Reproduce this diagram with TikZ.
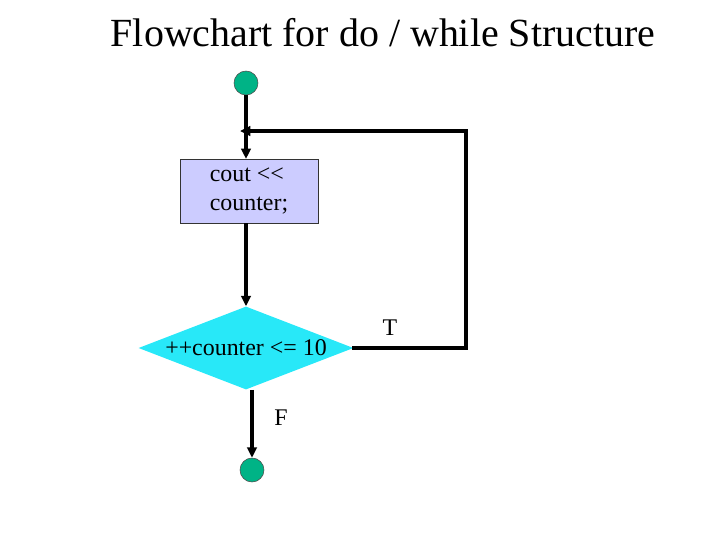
\documentclass[tikz,border=0pt]{standalone}
\usepackage{fontspec}
\setmainfont{Liberation Serif}
\usetikzlibrary{arrows.meta,positioning,shapes.geometric}
\definecolor{flowterm}{RGB}{0,179,134}
\definecolor{flowproc}{RGB}{204,204,255}
\definecolor{flowdec}{RGB}{40,232,248}
\tikzset{
  term/.style={circle,draw=black!70,thin,fill=flowterm,minimum size=0.6cm,inner sep=0pt},
  proc/.style={draw=black!80,thin,fill=flowproc,align=left,font=\fontsize{17}{20.5}\selectfont,
               minimum width=3.45cm,minimum height=1.6cm,inner sep=2pt},
  dec/.style={diamond,draw=none,fill=flowdec,aspect=2.6,inner sep=0pt,
              minimum width=5.375cm,minimum height=2.075cm,font=\fontsize{17}{20}\selectfont},
  flabel/.style={font=\fontsize{17}{20}\selectfont},
  wire/.style={line width=2.6pt,draw=black},
  flow/.style={wire,-{Triangle[length=2.6mm,width=2.4mm]}},
}
\begin{document}
\begin{tikzpicture}
\useasboundingbox (0,0) rectangle (18,-13.5);
% title
\node[font=\fontsize{28.4}{32}\selectfont] (title) at (9.575,-0.825) {Flowchart for do / while Structure};
% nodes
\node[term] (start) at (6.15,-2.075) {};
\node[proc] (body) at (6.225,-4.78) {cout <{}<\\counter;};
\node[dec] (test) at (6.15,-8.7) {++counter <{}= 10};
\node[term] (stop) at (6.3,-11.75) {};
\coordinate (join) at (6.0,-3.275);
\coordinate (loop) at (11.65,-3.275);
% connectors
\draw[flow] (start.south) -- (start.south|-body.north);
\draw[flow] (test.north|-body.south) -- (test.north);
\draw[wire,line cap=rect] (test.east) -| (loop);
\draw[flow] (loop) -- (join);
\draw[flow] (stop|-test.south) -- (stop.north);
% branch labels
\node[flabel] (tl) at (9.75,-8.2) {T};
\node[flabel] (fl) at (7.025,-10.45) {F};
\end{tikzpicture}
\end{document}
